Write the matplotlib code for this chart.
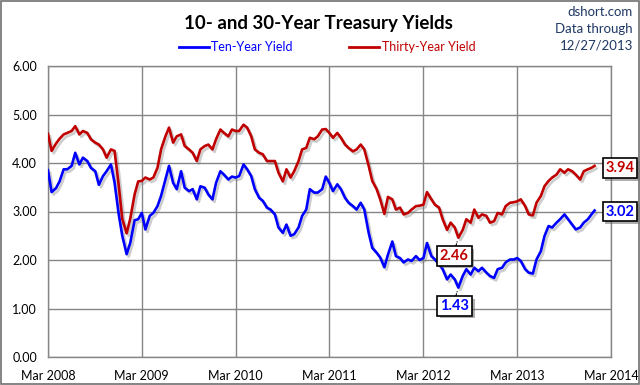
import matplotlib
matplotlib.use("Agg")
import matplotlib.pyplot as plt
import matplotlib.dates as mdates
import matplotlib.patheffects as pe
from matplotlib.patches import Rectangle
import numpy as np
import pandas as pd

plt.rcParams['font.family'] = ['Lato', 'DejaVu Sans']

# semi-monthly readings (1st and 15th) from Mar 2008, last point 12/27/2013
dates = list(pd.date_range('2008-03-01', '2013-12-15', freq='SMS')) + [pd.Timestamp('2013-12-27')]

thirty_year = [
    4.60, 4.25, 4.40, 4.50, 4.59, 4.62, 4.66, 4.76, 4.59, 4.66,
    4.62, 4.49, 4.42, 4.38, 4.28, 4.11, 4.28, 4.25, 3.55, 2.85,
    2.55, 2.85, 3.35, 3.62, 3.63, 3.70, 3.66, 3.70, 3.90, 4.28,
    4.55, 4.73, 4.42, 4.55, 4.59, 4.35, 4.28, 4.21, 4.04, 4.28,
    4.35, 4.38, 4.28, 4.49, 4.69, 4.62, 4.55, 4.69, 4.66, 4.66,
    4.79, 4.73, 4.55, 4.28, 4.21, 4.18, 4.04, 4.04, 4.04, 3.80,
    3.62, 3.87, 3.70, 3.83, 4.04, 4.28, 4.31, 4.52, 4.49, 4.55,
    4.69, 4.70, 4.62, 4.52, 4.62, 4.52, 4.38, 4.31, 4.24, 4.28,
    4.38, 4.28, 3.94, 3.63, 3.46, 3.25, 2.95, 3.30, 3.25, 3.04,
    3.08, 2.94, 2.97, 3.04, 3.11, 3.12, 3.14, 3.40, 3.25, 3.14,
    3.08, 2.84, 2.62, 2.77, 2.67, 2.46, 2.62, 2.84, 2.77, 3.04,
    2.87, 2.94, 2.91, 2.77, 2.80, 2.97, 2.94, 3.11, 3.18, 3.19,
    3.21, 3.25, 3.11, 2.94, 2.92, 3.18, 3.32, 3.52, 3.63, 3.70,
    3.76, 3.87, 3.80, 3.87, 3.83, 3.76, 3.66, 3.83, 3.87, 3.90,
    3.94,
]

ten_year = [
    3.85, 3.40, 3.48, 3.62, 3.87, 3.87, 3.94, 4.21, 3.97, 4.11,
    4.04, 3.90, 3.83, 3.55, 3.73, 3.83, 3.97, 3.60, 2.95, 2.50,
    2.12, 2.35, 2.82, 2.84, 2.97, 2.63, 2.91, 2.97, 3.11, 3.32,
    3.66, 3.94, 3.59, 3.46, 3.83, 3.49, 3.42, 3.46, 3.25, 3.52,
    3.49, 3.35, 3.25, 3.59, 3.83, 3.76, 3.66, 3.72, 3.70, 3.73,
    3.97, 3.87, 3.73, 3.46, 3.28, 3.22, 3.08, 3.04, 2.94, 2.67,
    2.56, 2.73, 2.50, 2.53, 2.67, 2.91, 3.04, 3.46, 3.39, 3.39,
    3.46, 3.72, 3.59, 3.42, 3.56, 3.46, 3.28, 3.18, 3.11, 3.04,
    3.18, 3.04, 2.56, 2.25, 2.15, 2.05, 1.85, 2.11, 2.38, 2.08,
    2.04, 1.95, 2.01, 1.98, 2.08, 2.00, 2.04, 2.35, 2.08, 2.01,
    1.91, 1.81, 1.60, 1.70, 1.60, 1.43, 1.67, 1.81, 1.70, 1.84,
    1.77, 1.84, 1.74, 1.67, 1.63, 1.81, 1.84, 1.95, 2.01, 2.01,
    2.04, 1.98, 1.81, 1.74, 1.72, 2.01, 2.18, 2.49, 2.70, 2.67,
    2.77, 2.84, 2.94, 2.84, 2.73, 2.63, 2.67, 2.77, 2.84, 2.94,
    3.02,
]

blue = '#0000FF'
red = '#C00000'
grid_gray = '#868686'

fig = plt.figure(figsize=(6.4, 3.85), dpi=100)
ax = fig.add_axes([48/640, 1-357/385, (611-48)/640, (357-66)/385])

shadow = [pe.SimpleLineShadow(offset=(1.5, -1.8), shadow_color='#707070', alpha=0.35), pe.Normal()]
ax.plot(dates, ten_year, color=blue, lw=1.9, path_effects=shadow, zorder=3)
ax.plot(dates, thirty_year, color=red, lw=1.9, path_effects=shadow, zorder=3)

ax.set_ylim(0, 6)
ax.set_yticks(np.arange(0, 7, 1))
ax.yaxis.set_major_formatter(matplotlib.ticker.FormatStrFormatter('%.2f'))
ax.set_xlim(pd.Timestamp('2008-03-01'), pd.Timestamp('2014-03-01'))
ax.xaxis.set_major_locator(mdates.MonthLocator(bymonth=3))
ax.xaxis.set_major_formatter(mdates.DateFormatter('%b %Y'))
ax.grid(True, color=grid_gray, lw=1.0)
ax.set_axisbelow(True)
for s in ax.spines.values():
    s.set_color(grid_gray)
    s.set_linewidth(1.0)
ax.tick_params(length=0, labelsize=9, colors='black')
ax.tick_params(axis='x', pad=9)
ax.tick_params(axis='y', pad=8)

box_shadow = [pe.SimplePatchShadow(offset=(2, -2), shadow_rgbFace='#606060', alpha=0.5), pe.Normal()]


def box_label(xy, text, color, offset, ha):
    t = ax.annotate(text, xy=xy, xytext=offset, textcoords='offset pixels',
                    ha=ha, va='center', fontsize=10.5, fontweight='bold', color=color,
                    bbox=dict(boxstyle='square,pad=0.2', fc='white', ec='black', lw=1.2),
                    zorder=6, annotation_clip=False)
    t.get_bbox_patch().set_path_effects(box_shadow)


box_label((dates[-1], thirty_year[-1]), f'{thirty_year[-1]:.2f}', red, (11, -2), 'left')
box_label((dates[-1], ten_year[-1]), f'{ten_year[-1]:.2f}', blue, (11, -1), 'left')

i_red = int(np.argmin(thirty_year[90:])) + 90
i_blue = int(np.argmin(ten_year[90:])) + 90
for i, vals, col in [(i_red, thirty_year, red), (i_blue, ten_year, blue)]:
    ax.annotate('', xy=(dates[i], vals[i]), xytext=(-3, -10), textcoords='offset pixels',
                arrowprops=dict(arrowstyle='-', color='black', lw=0.8, ls='--',
                                shrinkA=0, shrinkB=3), zorder=5)
    box_label((dates[i], vals[i]), f'{vals[i]:.2f}', col, (-4, -18), 'center')

fig.text(0.497, 1-24/385, '10- and 30-Year Treasury Yields', ha='center', va='center',
         fontsize=13.5, fontweight='bold')

h1 = matplotlib.lines.Line2D([], [], color=blue, lw=2.0)
h2 = matplotlib.lines.Line2D([], [], color=red, lw=2.0)
fig.legend([h1, h2], ['Ten-Year Yield', 'Thirty-Year Yield'], loc='center',
           bbox_to_anchor=(327/640, 1-47/385), ncol=2, frameon=False, fontsize=9,
           labelcolor=[blue, red], handlelength=2.4, handletextpad=0.2, columnspacing=4.5)

navy = '#1F3864'
fig.text(633/640, 1-12/385, 'dshort.com', ha='right', va='center', fontsize=9.5, color=navy)
fig.text(633/640, 1-29/385, 'Data through', ha='right', va='center', fontsize=9.5, color=navy)
fig.text(633/640, 1-46/385, '12/27/2013', ha='right', va='center', fontsize=9.5, color=navy)

fig.patches.append(Rectangle((0.001, 0.002), 0.997, 0.996, transform=fig.transFigure,
                             fill=False, ec='#707070', lw=1.2))

fig.savefig('out.png', dpi=100)
